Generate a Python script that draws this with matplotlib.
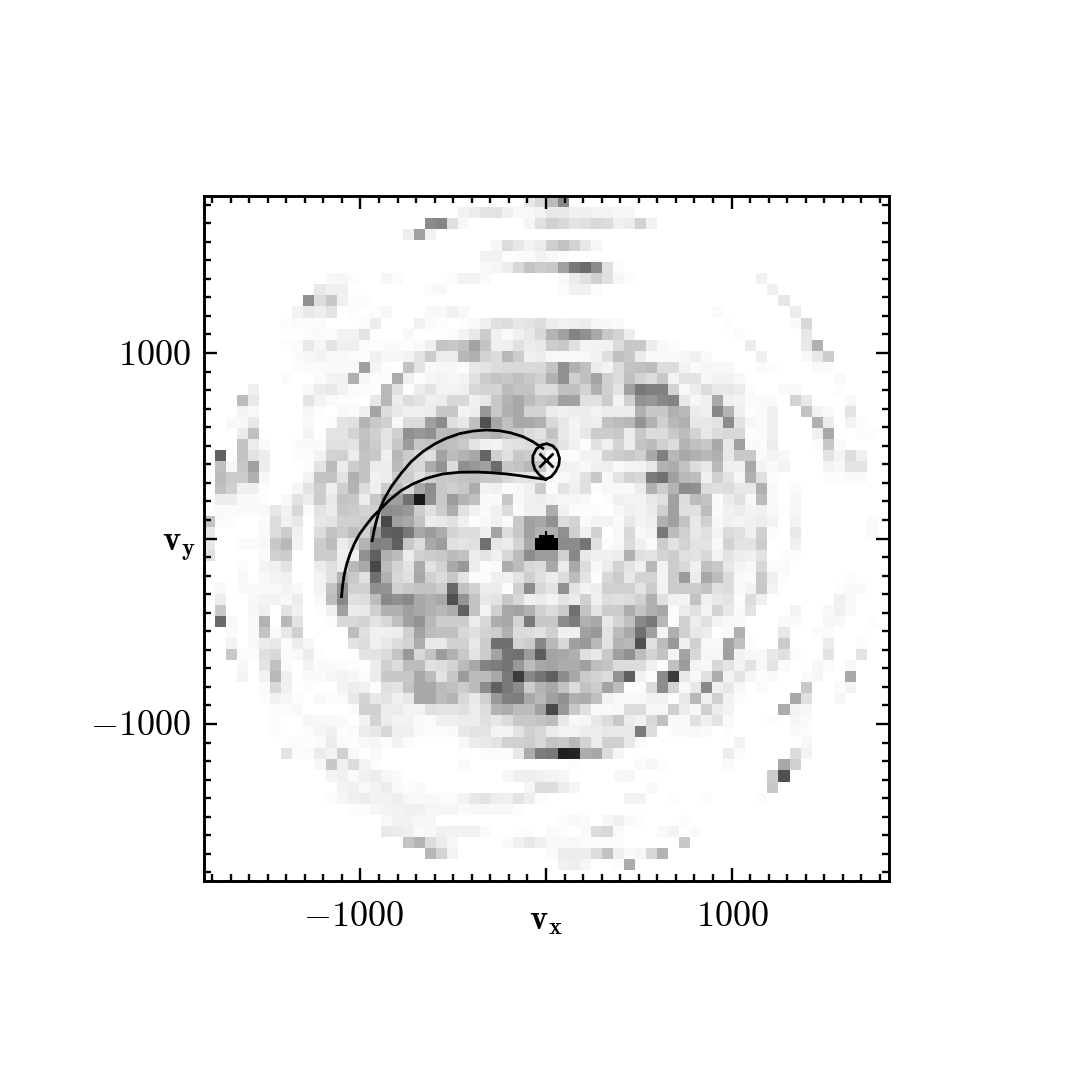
# -*- coding: utf-8 -*-
import numpy as np
import matplotlib
matplotlib.use('Agg')
import matplotlib.pyplot as plt
from matplotlib.ticker import MultipleLocator

plt.rcParams['mathtext.fontset'] = 'cm'

# velocity range of the map, n cells per side
v_max = 1846
n_cells = 62

# grey level per cell, one string per row from the top, "column:hex", white if missing
grey_rows = [
 "29:e8 30:d8 31:bb 32:88",
 "23:f2 24:ec 25:e4 26:e4 27:f0 28:f8 29:f8 30:f4 31:e8 32:e8 33:f0 34:f0 35:f4 36:f4 37:f6 38:f6",
 "20:8c 21:85 22:e0 23:f8 29:f6 30:e0 31:d0 32:d8 33:e4 34:e0 35:d8 36:dc 37:f0 38:ec 39:d4 40:f2",
 "18:ee 19:a0 20:f2",
 "26:f6 27:dc 28:e8 29:f4 30:ec 31:d0 32:c4 33:d4 34:e8 35:f6",
 "25:f4 26:f2 27:fc 28:fc 29:fa 30:f4 31:f8 32:fc",
 "25:f8 26:f6 27:ee 28:d8 29:c4 30:cc 31:c8 32:a0 33:78 34:6c 35:8c 36:e0 37:fc",
 "11:f8 12:f6 13:fc 16:f6 17:fa 22:fa 23:f2 24:f4 25:fa 32:f8 33:ec 34:e0 35:d0 36:e0 37:f6 38:fc 50:f2",
 "10:e8 11:f0 12:f0 20:fa 21:f8 32:fa 33:f2 34:f0 35:fa 51:f0",
 "9:90 10:dc 11:c8 12:f0 13:fc 14:fc 52:e6",
 "8:f2 9:e8 10:ee 11:e4 13:fc 15:fc 16:f6 20:f8 21:f8 22:f0 23:f8 46:fa 53:ec",
 "7:fc 8:fa 9:fc 10:fa 14:fc 15:ec 19:f2 20:fa 21:fc 23:fc 24:f8 25:f0 26:e0 27:dc 28:e8 29:e4 30:dc 31:ec 32:f2 33:ee 34:ec 35:f6 36:f8 37:fa 47:fc 53:fa 54:d8",
 "9:fa 10:fa 11:fa 12:f4 13:f4 14:e4 18:f8 22:fc 23:f4 24:e8 25:cc 26:f0 27:fa 28:f0 29:e8 30:d8 31:b4 32:a0 33:84 34:90 35:a8 36:c8 37:d4 38:ee 48:fa 54:e8",
 "7:fc 8:fa 9:e8 10:f6 11:e4 12:f0 13:ee 14:fa 15:fc 16:fa 17:fa 18:fc 19:fa 20:f0 21:c4 22:c8 23:c0 24:a4 25:c4 26:f0 27:f0 28:e0 29:ec 30:e8 31:cc 32:c8 33:e0 34:f4 35:f4 36:f2 37:dc 38:c8 39:c8 40:ec 41:f8 42:fc 49:ec 54:e8 55:b0",
 "8:fa 9:f6 10:f4 11:fa 12:f8 13:fa 14:fc 15:f0 16:f6 17:f6 18:f4 19:e4 20:cc 21:ec 22:ec 23:b8 24:b0 25:d4 26:dc 27:b8 28:cc 29:f0 30:ec 31:f8 32:f8 33:f8 34:f8 35:f2 36:e0 37:c0 38:c8 39:ec 40:fa 41:f8 42:f8 43:f6 44:f0 45:fa 50:f0 54:f8 55:e8 56:cc",
 "8:fc 9:fa 10:fa 11:fa 12:fa 13:f8 14:a0 15:f4 16:fc 18:c4 19:e4 20:fa 21:f8 22:f8 23:fc 24:e8 25:e4 26:dc 27:d8 28:d8 29:d8 30:d8 31:c4 32:90 33:b0 34:c0 35:ec 36:f4 37:dc 38:c4 39:c0 40:bc 41:dc 42:dc 43:f2 44:fa 45:f6 46:f8 47:f8 50:fa 51:fc 55:fa 56:fa",
 "7:fa 10:fa 11:f4 12:f2 13:b0 14:f6 15:fc 16:fc 17:ac 18:f0 19:fc 20:f6 21:f4 22:f6 23:f4 24:e0 25:cc 26:c4 27:c8 28:c0 29:c8 30:d0 31:b0 32:90 33:d0 34:c0 35:a4 36:d0 37:dc 38:c0 39:d4 40:dc 41:c8 42:f4 43:e4 44:e4 45:f6 46:f2 47:f2 48:f8 57:fa",
 "4:f0 9:f8 10:ec 11:e8 12:f2 13:fa 14:fc 15:fc 16:b8 17:e0 18:fc 19:ec 20:e4 21:f4 22:f4 23:f0 24:d8 25:d4 26:d4 27:bc 28:c4 29:c4 30:dc 31:dc 32:c0 33:c0 34:d4 35:b0 36:d0 37:e4 38:a0 39:78 40:80 41:80 42:d4 43:f8 44:ec 45:dc 46:e8 47:e8 48:ec 49:fa 52:fa 53:f8 57:fc",
 "3:bc 4:e8 9:e4 10:f4 11:fa 12:fc 13:fc 15:e8 16:b8 17:ec 18:dc 19:e4 20:f0 21:ec 22:d8 23:d8 24:f0 25:e8 26:c8 27:b4 28:a8 29:bc 30:c8 31:c4 32:a0 33:a4 34:e0 35:e0 36:cc 37:f4 38:d0 39:94 40:98 41:88 42:84 43:e8 44:f6 45:f0 46:a8 47:f0 48:f4 49:fa 50:fa 51:fa 53:d4 54:e8 58:f8",
 "3:f4 4:f8 9:f6 10:fc 12:f8 13:fa 14:f0 15:a4 16:dc 17:e8 18:f0 19:f0 20:ec 21:c8 22:c8 23:f4 24:ee 25:98 26:c8 27:b0 28:a8 29:d4 30:d4 31:ec 32:f0 33:ec 34:ec 35:f4 36:ec 37:ec 38:ec 39:b0 40:c8 41:c8 42:b0 43:b8 44:ec 45:f0 46:88 47:b4 48:f0 49:fc 50:fa 51:f0 54:c4 55:f4 56:fa 58:e4",
 "2:f8 3:f8 4:e8 9:f8 11:fc 12:e4 13:e0 14:b4 15:c8 16:d0 17:f8 18:dc 19:dc 20:a0 21:8c 22:e0 23:e8 24:c0 25:50 26:a8 27:c0 28:a8 29:a8 30:b0 31:d8 32:e8 33:f4 34:ec 35:ee 36:c4 37:bc 38:b8 39:94 40:b0 41:d0 42:b8 43:b0 44:e8 45:e8 46:e4 47:8c 48:e4 49:f6 50:fa 51:f0 55:b0 56:ec 58:f4 59:fc",
 "3:ec 4:c0 9:f4 11:e4 12:e4 13:d4 14:c4 15:d0 16:e4 17:d0 18:90 19:98 20:90 21:bc 22:b8 23:c0 24:bc 25:b8 26:b0 27:c0 28:c8 29:dc 30:e4 31:c4 32:e8 33:f4 34:e8 35:cc 36:cc 37:c8 38:ec 39:c8 40:dc 41:dc 42:c8 43:bc 44:d4 45:e8 46:dc 47:d8 48:d8 49:fc 50:fa 51:f0 55:f0 56:a8 59:fc 60:fc",
 "3:c4 4:ec 5:fa 8:fa 9:fa 10:fa 11:e0 12:e0 13:e4 14:c0 15:cc 16:e4 17:c8 18:9c 19:c8 20:c4 21:bc 22:c0 23:c8 24:e4 25:f0 26:f4 27:e4 28:e0 29:dc 30:d8 31:d4 32:e4 33:f0 34:fc 35:e0 36:f0 37:d4 38:ec 39:c4 40:bc 41:d0 42:dc 43:b4 44:c0 45:c8 46:a8 47:e8 48:a0 49:fa 50:fa 51:ec 55:fa 56:c8 57:fa",
 "1:60 3:c4 4:e4 5:ec 8:fc 9:fc 10:f4 11:d4 12:d0 13:ec 14:c4 15:c8 16:f0 17:b8 18:cc 19:d8 20:e0 21:a4 22:bc 23:b4 24:a8 25:64 26:d0 27:e0 28:c8 29:cc 30:e0 31:fa 32:fc 33:fc 34:f4 35:f2 36:d4 37:cc 38:c8 39:d0 40:a8 41:80 42:b8 43:a8 44:b0 45:b8 46:b0 47:e8 48:c8 49:c8 50:fa 51:f4 52:f8 56:e4 57:f4 58:dc 59:f0",
 "1:c0 2:f6 3:c8 4:a0 5:ec 9:fc 10:e4 11:bc 12:ec 13:cc 14:c4 15:ec 16:ec 17:bc 18:d0 19:d8 20:ac 21:94 22:dc 23:90 24:98 25:a0 26:6c 27:c8 28:c4 29:b8 30:c8 31:f0 32:f0 33:f4 34:f8 35:f0 36:ee 37:f8 38:f4 39:f4 40:e8 41:b4 42:ac 43:c4 44:dc 45:e8 46:b8 47:f0 48:f0 49:a8 50:f4 51:fa 52:f4 56:f4 57:f8 58:e4 59:e4",
 "1:bc 2:cc 3:cc 4:b0 5:f6 9:f4 10:c4 11:c4 12:e4 13:b0 14:c4 15:f0 16:ec 17:cc 18:cc 19:e0 20:d0 21:c8 22:c8 23:c4 24:c0 25:c8 26:c8 27:d8 28:e4 29:e4 30:e8 31:f8 32:f8 33:f4 34:e0 35:c8 36:f8 37:e4 38:d4 39:d8 40:7c 41:70 42:a0 43:b8 44:bc 45:f0 46:d0 47:e4 48:f6 49:b0 50:e0 51:fc 56:fc 57:fc 58:fa 59:fa",
 "1:c0 2:d0 3:f0 4:f0 5:fc 8:f6 9:e4 10:cc 11:f0 12:d0 13:b4 14:dc 15:f0 16:cc 17:bc 18:d8 19:a8 20:8c 21:c8 22:d0 23:c8 24:ac 25:f4 26:f0 27:fa 28:f8 29:f0 30:cc 31:fc 32:e4 33:f0 34:e0 35:fc 36:f8 37:f8 38:f8 39:ec 40:b0 41:cc 42:b4 43:8c 44:90 45:dc 46:e0 47:dc 48:e8 49:e8 50:b0 51:f8 53:fa",
 "1:ec 2:ee 3:fa 4:fa 5:fc 7:f8 8:e4 9:ec 10:cc 11:e8 12:c4 13:c8 14:ec 15:c8 16:a0 17:a0 18:70 19:18 20:90 21:c8 22:9c 23:b4 24:c0 25:fa 26:fa 27:c8 28:f8 29:f0 30:ec 31:f4 32:f6 33:f6 34:f8 36:fc 37:f0 38:f4 39:f4 40:e8 41:e0 42:a0 43:dc 44:bc 45:c4 46:fa 47:ec 48:e0 49:f8 50:bc 51:f8 53:f6",
 "1:fa 2:fa 3:fa 4:fa 5:f8 6:e8 7:f4 8:d8 9:fa 10:e4 11:ec 12:c8 13:cc 14:d4 15:d0 16:8c 17:90 18:98 19:cc 20:e0 21:cc 22:ac 23:e0 24:f0 25:fa 26:f0 27:dc 28:fa 29:f0 30:f0 31:ac 32:f0 33:fc 34:fc 35:fc 37:f8 38:f0 39:f4 40:ec 41:d0 42:a0 43:e0 44:e0 45:bc 46:fa 47:f0 48:ec 49:f4 50:f0 51:f8 52:fc 53:f6",
 "0:c4 1:fa 2:fc 5:fa 6:dc 7:f0 8:e8 10:e8 11:e4 12:d0 13:d0 14:cc 15:c8 16:48 17:a0 18:a8 19:c4 20:ec 21:e8 22:e0 23:f0 24:fc 25:f8 26:f0 27:fa 28:c8 29:a0 30:a8 31:90 32:dc 33:d4 34:fa 35:f4 36:f4 37:fa 38:e8 39:f4 40:ee 41:b0 42:a0 43:c4 44:e8 45:d0 46:f8 47:f0 48:f4 49:f0 50:ec 51:f4 53:f4 60:fa",
 "0:e8 5:f8 6:dc 7:cc 8:f0 10:dc 11:c4 12:cc 13:bc 14:d0 15:9c 16:60 17:5c 18:78 19:a8 20:9c 21:ac 22:d4 23:dc 24:dc 25:f0 26:a4 27:dc 28:c8 29:a0 30:b4 31:b0 32:90 33:d0 34:f0 35:d0 37:f8 38:d8 39:f8 40:f4 41:78 42:bc 43:d0 44:e8 45:e0 46:f4 47:dc 48:e0 49:f0 50:d0 51:fc 53:e8 60:fa",
 "0:e8 3:fa 4:fa 5:f8 6:c8 7:b8 8:f4 10:cc 11:bc 12:ec 13:dc 14:b4 15:80 16:84 17:60 18:c8 19:dc 20:a8 21:9c 22:e0 23:e4 24:e0 25:70 26:e8 27:ec 28:d4 29:a8 30:00 31:00 32:8c 33:8c 34:74 35:e0 36:fc 37:f8 38:dc 39:f0 40:fa 41:cc 42:e4 43:d4 44:e4 45:e4 46:f8 47:d4 48:e4 49:e4 50:cc 53:f0",
 "0:e0 5:fa 6:d0 7:cc 10:cc 11:cc 12:f0 13:f0 14:90 15:60 16:b0 17:bc 18:ec 19:d0 20:cc 21:c8 22:bc 23:c0 24:ec 25:e4 26:f0 27:d8 28:bc 29:8c 30:9c 31:9c 32:d0 33:88 34:e8 35:f0 36:f0 37:ec 38:b0 39:e0 40:e4 41:d4 42:cc 43:e0 44:e4 45:d8 46:f4 47:e4 48:ec 49:f0 50:e4 52:fc 53:fc",
 "3:fa 5:f4 6:f0 7:e4 10:ec 11:e0 12:ec 13:b8 14:a8 15:48 16:bc 17:d4 18:e4 19:ac 20:e4 21:d4 22:a8 23:98 24:ec 25:fc 26:fa 27:ac 28:bc 29:d8 30:dc 31:a8 32:ec 33:a8 34:dc 35:f8 36:ec 37:d4 38:e4 39:f0 40:b8 41:f4 42:cc 43:d8 44:f0 45:c0 46:c8 47:e8 48:f4 49:f8 50:d8 51:fa 52:fa",
 "3:f8 5:f8 6:f4 7:f0 10:f4 11:e0 12:b4 13:c8 14:e0 15:70 16:b0 17:d8 18:e0 19:a8 20:d0 21:dc 22:c8 23:e4 24:fc 25:fc 26:f0 27:f0 28:e4 29:d0 30:e0 31:ec 32:dc 33:bc 34:e4 35:fc 36:d8 37:cc 38:e8 39:d4 40:d4 41:f4 42:cc 43:9c 44:ec 45:a8 46:bc 47:dc 48:f8 49:fa 50:c8 51:f0 52:fc 58:fc",
 "1:f8 3:fa 4:fa 5:fa 6:f8 7:f4 8:f8 10:f4 11:c4 12:90 13:d0 14:d0 15:90 16:94 17:d0 18:c8 19:c4 20:c4 21:cc 22:68 23:c0 24:d0 25:ec 26:ec 27:fc 28:d0 29:8c 30:d8 31:e4 32:90 33:e4 34:f4 35:ee 36:d0 37:d0 38:d0 39:e4 40:cc 41:f4 42:cc 43:cc 44:cc 45:c4 46:e0 47:dc 48:f8 49:f4 50:c8 51:f4 57:fc 58:fa 59:fa",
 "1:ec 4:f8 5:f4 6:f4 7:f8 8:ec 10:f8 11:bc 12:88 13:e0 14:dc 15:bc 16:88 17:90 18:88 19:a8 20:b0 21:a8 22:50 23:94 24:c4 25:e8 26:e4 27:c8 28:d8 29:f0 30:ec 31:f4 32:e4 33:ec 34:d0 35:f0 36:dc 37:e0 38:dc 39:d0 40:b0 41:e0 42:f0 43:f4 44:c4 45:f0 46:e8 47:e4 48:fc 49:dc 50:f0 57:f0 58:f8",
 "1:c8 4:f6 5:f0 7:e4 8:f0 10:fc 11:f0 12:a0 13:ec 14:e8 15:d0 16:b0 17:b0 18:a0 19:a8 20:b0 21:b8 22:ac 23:60 24:c4 25:f4 26:d0 27:a8 28:a4 29:b0 30:d0 31:dc 32:cc 33:70 34:c4 35:e4 36:cc 37:cc 38:ac 39:c4 40:b0 41:a8 42:fa 43:ec 44:e0 45:f4 46:d4 47:e8 48:fa 49:e4 53:f4 56:f8 57:f0 58:f8",
 "1:68 2:f8 4:f8 5:b4 7:b8 8:e4 11:fc 12:d8 13:d8 14:d4 15:e4 16:d8 17:c0 18:a0 19:94 20:b8 21:cc 22:cc 23:cc 24:ec 25:d8 26:ac 27:a8 28:d4 29:78 30:c8 31:c8 32:8c 33:7c 34:b0 35:a8 36:e8 37:d4 38:c0 39:88 40:78 41:b8 42:fc 43:d0 44:ec 45:e0 46:f4 47:f8 48:f8 52:fa 53:fa 56:f6 57:f8 60:fc",
 "2:fa 4:fa 5:c4 6:fa 7:e8 8:d0 13:bc 14:e0 15:f0 16:f0 17:ec 18:d0 19:a4 20:bc 21:c0 22:c0 23:d8 24:e0 25:d4 26:cc 27:b0 28:dc 29:dc 30:e4 31:d0 32:f0 33:f0 34:a0 35:98 36:e4 37:bc 38:a8 39:70 40:a0 41:f4 42:b0 43:d0 44:e8 45:ec 47:fa 48:b0 52:e8 55:fa 56:fa",
 "2:f4 4:f8 5:ec 6:e8 7:fa 8:ec 9:f6 13:e4 14:dc 15:f0 16:e8 17:dc 18:d4 19:ac 20:e8 21:e8 22:d0 23:d0 24:e8 25:cc 26:70 27:70 28:d4 29:cc 30:88 31:b8 32:d8 33:a0 34:98 35:b8 36:e4 37:b4 38:b8 39:50 40:e0 41:bc 42:98 43:f0 44:d0 45:f8 46:f8 47:a4 48:c0 49:fc 52:cc 56:ec 59:fc",
 "2:c8 3:fc 4:fc 5:e0 6:d8 7:fa 8:f8 9:ec 10:fc 14:e4 15:e4 16:dc 17:c4 18:98 19:d8 20:c4 21:9c 22:b0 23:c8 24:e4 25:cc 26:a4 27:74 28:70 29:9c 30:5c 31:a4 32:a8 33:b0 34:e0 35:e8 36:c8 37:a0 38:90 39:bc 40:d4 41:c4 42:f4 43:a4 44:d8 45:f6 46:f6 47:a0 48:f2 49:f8 50:f8 51:e8 52:e0 53:fa 56:e4 59:e4",
 "3:f8 5:e4 6:c0 7:fa 9:f2 10:fa 11:fa 12:fa 13:fc 15:ec 16:d0 17:dc 18:bc 19:bc 20:e0 21:dc 22:d4 23:bc 24:a8 25:84 26:7c 27:74 28:98 29:bc 30:a8 31:a4 32:ac 33:ac 34:a0 35:bc 36:c4 37:dc 38:dc 39:dc 40:f0 41:fc 42:c0 43:9c 44:f4 45:f8 46:d8 47:e4 48:f4 49:e4 50:f8 51:e4 52:fa 55:f6 56:fa 58:f8",
 "3:f4 5:f4 6:b8 7:f0 9:fa 10:fa 11:f6 12:f4 13:f6 14:fc 15:ec 16:c8 17:c8 18:c8 19:a8 20:bc 21:e4 22:c8 23:9c 24:bc 25:bc 26:a8 27:78 28:3c 29:88 30:74 31:60 32:8c 33:a8 34:cc 35:d4 36:dc 37:94 38:60 39:f4 40:fc 41:8c 42:3c 43:e8 44:f8 45:e0 46:ac 47:f4 48:e4 49:f6 50:fc 51:fa 54:fa 55:f6 58:a8",
 "5:fa 6:d8 7:f0 9:fc 12:f4 13:ec 14:f0 15:fc 16:e0 17:e4 18:c4 19:a8 20:a8 21:bc 22:c0 23:cc 24:bc 25:8c 26:60 27:78 28:8c 29:cc 30:b4 31:a8 32:c4 33:dc 34:c4 35:cc 36:a4 37:bc 38:fc 39:fc 40:dc 41:8c 42:d4 43:f8 44:e8 45:88 46:f0 47:e8 48:f8 50:fa 54:c8 57:fa 58:f4",
 "5:fc 6:f2 7:f6 8:fc 10:f8 11:fc 12:fa 13:e8 14:d4 15:e8 16:e4 17:f0 18:e8 19:a8 20:a8 21:bc 22:b4 23:d8 24:e8 25:d0 26:98 27:80 28:7c 29:a8 30:b8 31:a0 32:90 33:b0 34:ac 35:c0 36:f4 37:f8 38:f8 39:f8 40:f2 41:f2 42:fc 43:e8 44:b8 45:f0 46:d0 47:f4 48:fc 53:a8 54:e0 57:f6",
 "6:fc 7:fa 8:f8 13:fa 14:d0 15:d0 16:ec 17:ec 18:f4 19:f4 20:e0 21:e4 22:e4 23:e0 24:ec 25:dc 26:b4 27:ac 28:bc 29:bc 30:a0 31:48 32:98 33:c8 34:e0 35:fa 36:fa 37:f8 38:dc 39:dc 40:f6 41:f6 42:d0 43:ec 44:f8 45:d0 46:ec 47:f4 52:ac 53:f4 54:f6",
 "6:fc 9:f6 10:f8 11:f8 12:fa 14:f2 15:d4 16:ec 17:f4 18:f4 19:fa 20:fa 21:f0 22:f0 23:ec 24:ec 25:e0 26:e8 27:dc 28:c8 29:c8 30:c4 31:bc 32:e8 33:f8 34:f6 35:e8 36:dc 37:c8 38:ec 39:f4 40:d8 41:c0 42:fa 43:fa 44:e0 45:f0 46:e4 47:fa 51:fc 53:f6 54:fa",
 "6:fc 9:fc 10:f6 11:f0 12:fc 13:fa 14:ec 15:e8 16:d8 17:f0 18:f0 19:fa 20:fc 21:fc 22:fa 23:e8 24:e4 25:e4 26:f4 27:f4 28:e4 29:d0 30:d8 31:ec 32:f4 33:f4 34:ec 35:ec 36:e8 37:e8 38:e8 39:7c 40:dc 42:fa 43:fa 44:f8 45:fa 47:fc 53:fa 54:fc",
 "7:fc 8:fa 9:fc 10:fa 11:ec 12:fa 13:fc 14:f8 15:f6 16:fc 17:f4 18:fa 23:f8 24:ec 25:e8 26:e4 27:d0 28:d0 29:cc 30:d8 31:c4 32:c8 33:b8 34:d4 35:ec 36:d0 37:d0 38:e8 39:fa 48:f4 54:f6",
 "7:e4 8:fc 9:fa 10:ec 11:f4 12:d0 13:f8 15:fa 25:fa 26:fa 27:fa 28:e8 29:ac 30:7c 31:78 32:20 33:24 34:ac 35:a8 36:dc 37:f6 47:ec 48:fa 53:dc 54:f4",
 "10:f6 11:c8 12:f0 13:dc 14:f4 15:fc 23:fa 33:fc 39:fa 40:f6 41:fc 47:fa 52:a8 53:d0",
 "11:f4 12:f0 13:fa 14:f0 15:ec 16:f6 17:fa 27:f6 28:ee 29:ee 30:f0 31:f4 32:f6 37:f8 38:f6 51:cc 52:50",
 "12:f4 13:f0 14:f8 15:f4 16:ec 17:f8 18:fc 19:fa 29:f6 30:dc 31:dc 32:ec 33:f6 40:f8 51:c8",
 "11:fc 12:f6 13:f0 14:ec 15:f2 16:f2 17:ee 18:f8 19:fa 20:f8 21:fa 22:fa 23:f4 24:e8 25:e4 26:ee 27:f0 28:e4 29:ee 30:fc 38:f4 39:f4 42:fc 45:fc 50:fc",
 "13:fc 14:fa 15:f6 16:f4 17:f4 18:f0 19:f0 20:f6 21:f6 22:f6 23:fa 24:f8 25:f8 26:f8 27:f8 28:fc",
 "16:f8 17:f2 18:f4 19:f6 20:f6 32:fc 33:f8 34:fa 36:f6 37:f0 38:fa 39:fc 43:fc",
 "16:e8 17:ec 18:f0 19:fa 20:f8 21:f0 22:f2 23:f2 24:f2 25:fa 28:fc 29:fc 31:fa 32:fc 34:fa 35:dc 36:d8 37:fa 41:f8 42:f4 44:fa",
 "18:c4 19:b4 20:dc 21:ec 22:f6 27:fa 28:f0 29:e8 30:f0 31:f8 32:f8 33:f8 34:fa 35:fc 36:fc 37:fc 43:c8",
 "20:b8 21:d4 22:f4 31:fa 32:ec 33:ec 34:ec 35:dc 36:c4 37:f0 38:fa 39:f6 40:d8 41:b4",
 "32:f2 33:ee 34:f6 37:fc 38:ac",
 "",
]

# the two tracks and the closed loop round the cross (vx, vy)
track_long_vx = [-1102, -1097, -1088, -1073, -1055, -1032, -1005, -969, -933, -894, -843, -781,
                 -718, -646, -556, -466, -376, -304, -215, -143, -71, -2]
track_long_vy = [-313, -260, -197, -134, -80, -26, 24, 73, 118, 157, 208, 258,
                 294, 324, 348, 357, 358, 355, 348, 339, 328, 319]
track_short_vx = [-937, -926, -912, -894, -870, -834, -781, -727, -664, -601, -538, -466,
                  -394, -322, -251, -188, -125, -71, -17]
track_short_vy = [-12, 46, 103, 163, 217, 279, 351, 414, 468, 509, 540, 565,
                  579, 585, 581, 569, 549, 522, 486]
loop_vx = [-2, 28, 51, 69, 73, 60, 37, 4, -26, -53, -71, -71, -60, -35, -2]
loop_vy = [319, 333, 360, 396, 432, 473, 499, 511, 504, 481, 445, 409, 373, 342, 319]
cross_vx = [1]
cross_vy = [423]
centre_vx = [0]
centre_vy = [0]
bump_vx = [-30, 30]
bump_vy = [15, 15]

img = np.full((n_cells, n_cells), 255.0)
for k, row in enumerate(grey_rows):
    for item in row.split():
        j, h = item.split(':')
        img[k, int(j)] = int(h, 16)

fig = plt.figure(figsize=(10.8, 10.8), dpi=100)
ax = fig.add_axes([203.5 / 1080, 1 - 881 / 1080, 685 / 1080, 685 / 1080])
ax.imshow(img, cmap='gray', vmin=0, vmax=255, extent=[-v_max, v_max, -v_max, v_max],
          interpolation='nearest', aspect='equal', zorder=1)

# tracks
ax.plot(track_long_vx, track_long_vy, color='k', lw=2.0, solid_joinstyle='round', zorder=3)
ax.plot(track_short_vx, track_short_vy, color='k', lw=2.0, solid_joinstyle='round', zorder=3)
ax.plot(loop_vx, loop_vy, color='k', lw=2.0, solid_joinstyle='round', zorder=3)
ax.plot(cross_vx, cross_vy, 'x', color='k', ms=9.5, mew=2.0, zorder=3)
ax.plot(centre_vx, centre_vy, '+', color='k', ms=11.5, mew=1.5, zorder=3)
ax.plot(bump_vx, bump_vy, color='k', lw=2.2, zorder=3)

ax.set_xlim(-v_max, v_max)
ax.set_ylim(-v_max, v_max)
ax.set_xticks([-1000, 0, 1000])
ax.set_yticks([-1000, 0, 1000])
ax.xaxis.set_minor_locator(MultipleLocator(100))
ax.yaxis.set_minor_locator(MultipleLocator(100))
ax.tick_params(which='major', direction='in', length=9.5, width=1.7, top=True, right=True,
               labelbottom=False, labelleft=False)
ax.tick_params(which='minor', direction='in', length=5, width=1.7, top=True, right=True)
for s in ax.spines.values():
    s.set_linewidth(2.1)
    s.set_zorder(5)

fs = 26
fig.text(353 / 1080, 1 - 916 / 1080, r'$-1000$', fontsize=fs, ha='center', va='center')
fig.text(732 / 1080, 1 - 916 / 1080, r'$1000$', fontsize=fs, ha='center', va='center')
fig.text(191 / 1080, 1 - 355 / 1080, r'$1000$', fontsize=fs, ha='right', va='center')
fig.text(191 / 1080, 1 - 725 / 1080, r'$-1000$', fontsize=fs, ha='right', va='center')
fig.text(546 / 1080, 1 - 920 / 1080, r'$\mathbf{v}_\mathbf{x}$', fontsize=25, ha='center', va='center')
fig.text(179 / 1080, 1 - 547 / 1080, r'$\mathbf{v}_\mathbf{y}$', fontsize=25, ha='center', va='center')

fig.savefig('out.png', dpi=100)
